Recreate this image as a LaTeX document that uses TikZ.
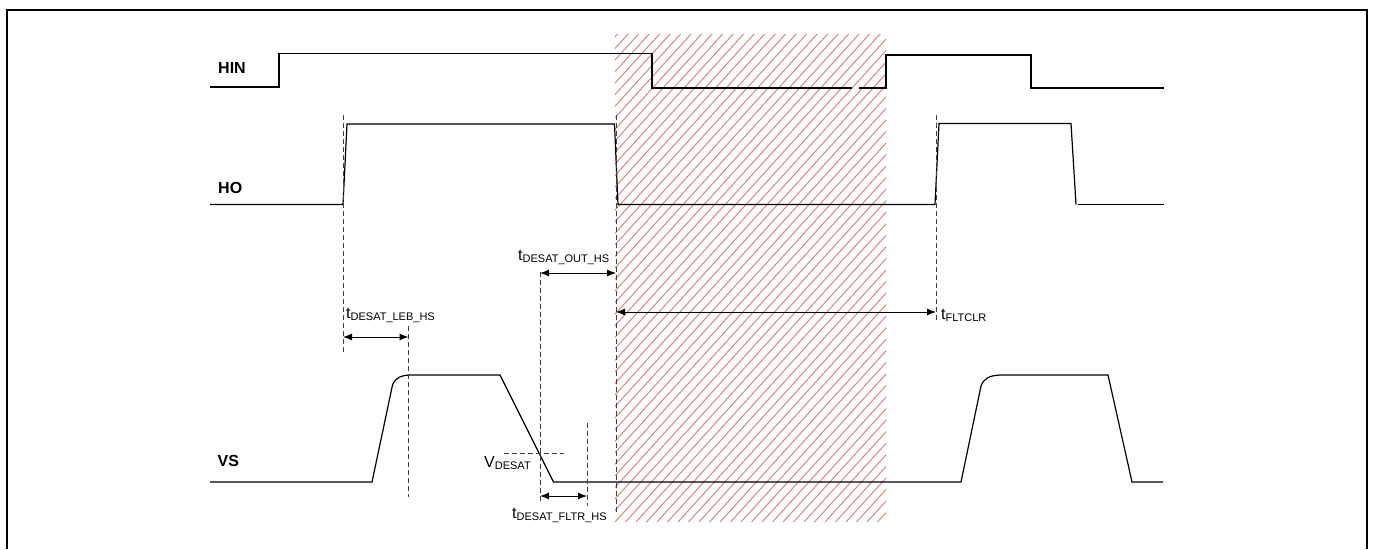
\documentclass[tikz,border=0pt]{standalone}
\usepackage{fontspec}
\setmainfont{Liberation Sans}
\usetikzlibrary{arrows.meta}
\definecolor{hatchred}{RGB}{222,120,120}
\newcommand\tsub[1]{\raisebox{-2.5pt}{\fontsize{11}{12}\selectfont #1}}
\begin{document}
\begin{tikzpicture}[x=1pt,y=-1pt,
  sig/.style={line width=1.2pt,black},
  dim/.style={line width=1pt,dash pattern=on 5pt off 3pt,black!75},
  arr/.style={line width=1pt,{Latex[length=9pt,width=7pt]}-{Latex[length=9pt,width=7pt]}},
  lbl/.style={inner sep=0pt,anchor=base west,font=\fontsize{16}{18}\selectfont},
  sname/.style={lbl,font=\fontsize{16}{18}\selectfont\bfseries}]
\useasboundingbox (0,0) rectangle (1373,549);
% hatched region
\begin{scope}
  \clip (615,34) rectangle (886,522);
  \foreach \i in {-52,...,30} {
    \draw[hatchred,line width=0.9pt] (615+\i*10.5,522) -- ++(500,-550);
  }
\end{scope}
% frame
\draw[line width=2pt] (7,549) -- (7,10) -- (1367,10) -- (1367,549);
% signal names
\node[sname] (hin) at (218,73.3) {HIN};
\node[sname] (ho) at (218,193.3) {HO};
\node[sname] (vs) at (217.5,466) {VS};
% HIN
\draw[sig] (210,87) -- (279,87) -- (279,53.5) -- (652,53.5) -- (652,88) -- (852,88);
\draw[sig] (859,88) -- (886,88) -- (886,55) -- (1031,55) -- (1031,88) -- (1164,88);
% HO
\draw[sig] (210,204.5) -- (343,204.5) -- (347,124) -- (614.5,124) -- (618,204.5)
  -- (935,204.5) -- (939,123.5) -- (1071,123.5) -- (1076,204.5);
\draw[sig] (1078,204.5) -- (1164,204.5);
% VS
\draw[sig] (210,482) -- (372,482) -- (392.5,385) .. controls (396,377) and (401,375.5) .. (410,375)
  -- (500,375) -- (553.5,482) -- (961,482) -- (981,386) .. controls (984,378) and (990,375.5) .. (1000,375)
  -- (1108,375) -- (1132,482) -- (1163,482);
% dashed guides
\draw[dim] (343,115) -- (343,352);
\draw[dim] (616,115) -- (616,512);
\draw[dim] (936,115) -- (936,322);
\draw[dim] (408.5,326) -- (408.5,497);
\draw[dim] (540,272) -- (540,504);
\draw[dim] (587,423) -- (587,506);
\draw[dim] (504,453) -- (564,453);
% dimension arrows
\coordinate (lebL) at (343,337);
\coordinate (lebR) at (408.5,337);
\coordinate (outL) at (540,273);
\coordinate (outR) at (616,273);
\coordinate (clrL) at (616,312);
\coordinate (clrR) at (936,312);
\coordinate (fltL) at (540,496);
\coordinate (fltR) at (587,496);
\draw[arr] (lebL) -- (lebR);
\draw[arr] (outL) -- (outR);
\draw[arr] (clrL) -- (clrR);
\draw[arr] (fltL) -- (fltR);
% labels
\node[lbl] (tleb) at (346,318) {t\tsub{DESAT\_LEB\_HS}};
\node[lbl] (tout) at (518,260) {t\tsub{DESAT\_OUT\_HS}};
\node[lbl] (tclr) at (941,319) {t\tsub{FLTCLR}};
\node[lbl] (tflt) at (512,518) {t\tsub{DESAT\_FLTR\_HS}};
\node[lbl] (vdes) at (484,467) {V\tsub{DESAT}};
\end{tikzpicture}
\end{document}
